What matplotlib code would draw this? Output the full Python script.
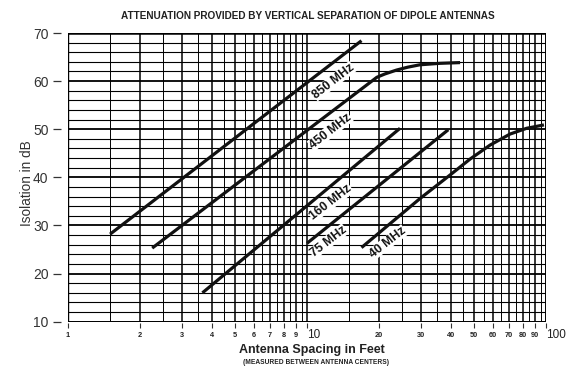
import matplotlib.pyplot as plt

plt.rcParams['font.family'] = ['Liberation Sans', 'DejaVu Sans']

# antenna spacing (feet) and isolation (dB)
ft_850 = [1.5, 16.9]
db_850 = [28.2, 68.4]
ft_450 = [2.25, 19.6, 21.2, 23.7, 26.4, 29.7, 36.0, 43.7]
db_450 = [25.3, 60.8, 61.5, 62.3, 62.9, 63.4, 63.7, 63.85]
ft_160 = [3.65, 24.5]
db_160 = [16.0, 50.2]
ft_75 = [10.0, 39.0]
db_75 = [26.3, 49.9]
ft_40 = [16.9, 29.7, 39.7, 48.1, 58.3, 70.7, 83.0, 98.0]
db_40 = [25.4, 35.6, 40.5, 43.8, 46.7, 49.0, 50.2, 50.9]

curve_names = ["850 MHz", "450 MHz", "160 MHz", "75 MHz", "40 MHz"]
# where each label sits (feet, dB)
label_pos = [(12.9, 60.0), (12.5, 49.6), (12.6, 34.8), (12.3, 26.7), (21.8, 26.5)]

x_ticks = [1, 2, 3, 4, 5, 6, 7, 8, 9, 10, 20, 30, 40, 50, 60, 70, 80, 90, 100]
y_ticks = [10, 20, 30, 40, 50, 60, 70]

fig = plt.figure(figsize=(5.72, 3.70), dpi=100)
ax = fig.add_axes([0.1189, 0.1305, 0.8357, 0.7803])
ax.set_xscale('log')
ax.set_xlim(1, 100)
ax.set_ylim(10, 70)

# graph paper grid
for v in range(10, 71, 2):
    lw = 1.3 if v % 10 == 0 else 0.8
    ax.axhline(v, color='black', lw=lw, zorder=1)
half_steps = [i + 0.5 for i in range(1, 10)] + [i * 10 + 5 for i in range(1, 10)]
for v in half_steps:
    ax.axvline(v, color='black', lw=0.7, zorder=1)
for v in x_ticks:
    ax.axvline(v, color='black', lw=1.1, zorder=1)
# frame
ax.axhline(70, color='black', lw=1.8, zorder=2)
ax.axhline(10, color='black', lw=1.3, zorder=2)
ax.axvline(100, color='black', lw=2.0, zorder=2)
ax.axvline(1, color='black', lw=1.0, zorder=2)

curves = [(ft_850, db_850), (ft_450, db_450), (ft_160, db_160), (ft_75, db_75), (ft_40, db_40)]
for (xs, ys) in curves:
    ax.plot(xs, ys, color='#111111', lw=2.3, solid_capstyle='butt', zorder=3)

for name, (lx, ly) in zip(curve_names, label_pos):
    ax.text(lx, ly, name, rotation=38, ha='center', va='center', fontsize=8.8,
            fontweight='bold', color='#111111', zorder=4,
            bbox=dict(facecolor='white', edgecolor='none', pad=0.2))

for s in ax.spines.values():
    s.set_visible(False)
ax.spines['left'].set_position(('outward', 5))
ax.spines['bottom'].set_position(('outward', 1))

ax.set_yticks(y_ticks)
ax.set_yticklabels([str(v) for v in y_ticks])
ax.tick_params(axis='y', length=6, width=0.9, pad=3, labelsize=10, labelcolor='#333333', color='#333333')
ax.minorticks_off()
ax.set_xticks(x_ticks)
ax.set_xticklabels([str(v) for v in x_ticks])
ax.tick_params(axis='x', length=3.5, width=0.8, pad=3, color='#333333')
for lbl in ax.get_xticklabels():
    if lbl.get_text() in ('10', '100'):
        lbl.set_fontsize(8.5)
        lbl.set_y(0.012)
        lbl.set_horizontalalignment('left')
    else:
        lbl.set_fontsize(5.3)
        lbl.set_fontweight('bold')
    lbl.set_color('#222222')

fig.text(0.539, 0.957, "ATTENUATION PROVIDED BY VERTICAL SEPARATION OF DIPOLE ANTENNAS",
         ha='center', va='center', fontsize=7.2, fontweight='bold', color='#222222')
fig.text(0.047, 0.505, "Isolation in dB", rotation=90, ha='center', va='center',
         fontsize=9.8, color='#333333')
fig.text(0.545, 0.054, "Antenna Spacing in Feet", ha='center', va='center',
         fontsize=9, fontweight='bold', color='#222222')
fig.text(0.552, 0.020, "(MEASURED BETWEEN ANTENNA CENTERS)", ha='center', va='center',
         fontsize=4.8, fontweight='bold', color='#222222')

fig.savefig('out.png', dpi=100)
